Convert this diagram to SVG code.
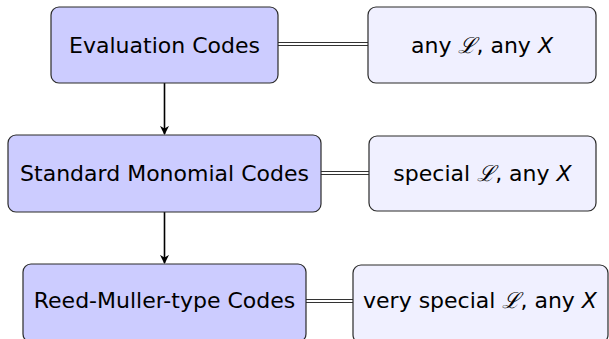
<svg xmlns="http://www.w3.org/2000/svg" width="609" height="339" viewBox="0 0 609 339">
  <defs>
    <marker id="arrowhead" viewBox="0 0 10 10" refX="9" refY="5" markerWidth="9" markerHeight="9" markerUnits="userSpaceOnUse" orient="auto">
      <path d="M0,0 L10,5 L0,10 L3,5 Z" fill="#000"/>
    </marker>
    <style>
      .main rect { fill: #ccccff; stroke: #2a2a2a; stroke-width: 1.2; }
      .side rect { fill: #f0f0ff; stroke: #2a2a2a; stroke-width: 1.2; }
      text { font-family: "DejaVu Sans", "Liberation Sans", sans-serif; font-size: 22px; fill: #000; text-anchor: middle; }
      .math { font-style: italic; }
      .script { font-family: "DejaVu Serif", serif; font-style: italic; }
      .dbl { stroke: #333; stroke-width: 1.1; fill: none; }
      .arrow { stroke: #000; stroke-width: 1.6; fill: none; marker-end: url(#arrowhead); }
    </style>
  </defs>

  <!-- connectors: vertical arrows and double-line links -->
  <g id="connectors">
    <line class="arrow" x1="164.5" y1="83" x2="164.5" y2="134"/>
    <line class="arrow" x1="164.5" y1="212" x2="164.5" y2="263"/>
    <line class="dbl" x1="278" y1="42.5" x2="368" y2="42.5"/>
    <line class="dbl" x1="278" y1="45.5" x2="368" y2="45.5"/>
    <line class="dbl" x1="321" y1="171.5" x2="369" y2="171.5"/>
    <line class="dbl" x1="321" y1="174.5" x2="369" y2="174.5"/>
    <line class="dbl" x1="306" y1="299.5" x2="353" y2="299.5"/>
    <line class="dbl" x1="306" y1="302.5" x2="353" y2="302.5"/>
  </g>

  <g id="evaluation" class="main">
    <rect x="51" y="7" width="227" height="76" rx="8"/>
    <text x="164.5" y="53">Evaluation Codes</text>
  </g>
  <g id="any-l-any-x" class="side">
    <rect x="368" y="7" width="228" height="76" rx="8"/>
    <text x="482" y="53">any <tspan class="script">ℒ</tspan>, any <tspan class="math">X</tspan></text>
  </g>

  <g id="standard-monomial" class="main">
    <rect x="8" y="135" width="313" height="77" rx="8"/>
    <text x="164.5" y="181">Standard Monomial Codes</text>
  </g>
  <g id="special-l-any-x" class="side">
    <rect x="369" y="136" width="227" height="75" rx="8"/>
    <text x="482.5" y="181">special <tspan class="script">ℒ</tspan>, any <tspan class="math">X</tspan></text>
  </g>

  <g id="reed-muller" class="main">
    <rect x="23" y="264" width="283" height="78" rx="8"/>
    <text x="164.5" y="308">Reed-Muller-type Codes</text>
  </g>
  <g id="very-special-l-any-x" class="side">
    <rect x="353" y="265" width="255" height="78" rx="8"/>
    <text x="480" y="308">very special <tspan class="script">ℒ</tspan>, any <tspan class="math">X</tspan></text>
  </g>
</svg>
